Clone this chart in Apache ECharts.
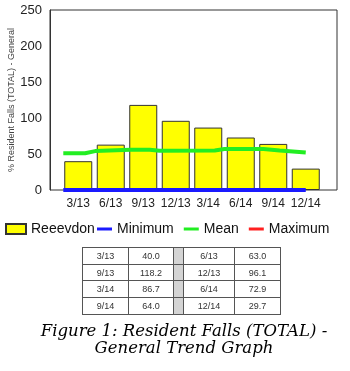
<!DOCTYPE html>
<html><head><meta charset="utf-8">
<script src="https://cdn.jsdelivr.net/npm/echarts@6/dist/echarts.min.js"></script>
<style>
html,body{margin:0;padding:0;background:#fff;}
#wrap{position:relative;width:350px;height:371px;overflow:hidden;}
#chart{position:absolute;left:0;top:0;width:350px;height:371px;}
#tbl{position:absolute;left:82px;top:247px;border-collapse:collapse;border:1px solid #000;font-family:"Liberation Sans",Arial,sans-serif;font-size:9px;color:#333;}
#tbl td{border:1px solid #555;height:15.7px;padding:0;text-align:center;}
#tbl td.g{background:#d4d4d4;width:9px;}
#cap{position:absolute;left:9px;top:322px;width:350px;text-align:center;font-family:"DejaVu Serif",serif;font-style:italic;font-size:16.5px;line-height:17px;color:#000;}
</style></head>
<body><div id="wrap"><div id="chart"></div><table id="tbl"></table><div id="cap">Figure 1: Resident Falls (TOTAL) -<br>General Trend Graph</div></div>
<script>
var categories = ['3/13','6/13','9/13','12/13','3/14','6/14','9/14','12/14'];
var reeevdon = [40.0, 63.0, 118.2, 96.1, 86.7, 72.9, 64.0, 29.7];
var meanX = [-0.46, 0.21, 0.52, 1.6, 2.2, 2.5, 4.2, 4.5, 5.7, 6.2, 7];
var meanY = [51, 51, 54, 56, 56, 54.5, 55, 57, 57, 55, 52];
var minX = [-0.46, 7];
var minY = [0, 0];
var yTicks = [0, 50, 100, 150, 200, 250];

var chart = echarts.init(document.getElementById('chart'), null, {renderer:'canvas'});
var font = '"Liberation Sans", Arial, sans-serif';
function pairs(xs, ys){ return xs.map(function(x,i){return [x, ys[i]];}); }
chart.setOption({
  animation:false,
  grid:[
    {left:50, right:13, top:10, bottom:181, show:true, borderColor:'#333', borderWidth:1, backgroundColor:'#fff', outerBoundsMode:'none', containLabel:false},
    {left:62, right:28, top:10, bottom:181, outerBoundsMode:'none', containLabel:false}
  ],
  xAxis:[
    {gridIndex:0, type:'value', show:false, min:0, max:1},
    {gridIndex:1, type:'category', data:categories, boundaryGap:true,
     axisLine:{show:false}, axisTick:{show:false},
     axisLabel:{color:'#222', fontFamily:font, fontSize:12, margin:8, interval:0}},
    {gridIndex:1, type:'value', show:false, min:-0.5, max:7.5}
  ],
  yAxis:[
    {gridIndex:0, type:'value', min:yTicks[0], max:yTicks[yTicks.length-1], interval:50,
     axisLine:{show:true, lineStyle:{color:'#333'}}, axisTick:{show:false}, splitLine:{show:false},
     axisLabel:{color:'#222', fontFamily:font, fontSize:13, margin:8},
     name:'% Resident Falls (TOTAL) - General', nameLocation:'middle', nameRotate:90, nameGap:34,
     nameMoveOverlap:false,
     nameTextStyle:{color:'#444', fontFamily:font, fontSize:9}},
    {gridIndex:1, type:'value', min:0, max:250, show:false}
  ],
  legend:[
    {left:5, top:222, padding:0, itemWidth:20, itemHeight:10, itemGap:6, data:[{name:'Reeevdon', icon:'rect'}],
     textStyle:{color:'#111', fontFamily:font, fontSize:14}},
    {left:97, top:222, padding:0, itemWidth:15, itemHeight:3, itemGap:10,
     data:[{name:'Minimum',icon:'rect'},{name:'Mean',icon:'rect'},{name:'Maximum',icon:'rect'}],
     textStyle:{color:'#111', fontFamily:font, fontSize:14}}
  ],
  series:[
    {name:'Reeevdon', type:'bar', xAxisIndex:1, yAxisIndex:1, data:reeevdon, barWidth:28,
     itemStyle:{color:'#ffff00', borderColor:'#333', borderWidth:1}},
    {name:'Minimum', type:'line', xAxisIndex:2, yAxisIndex:1, data:pairs(minX,minY), showSymbol:false,
     lineStyle:{color:'#1a1aff', width:4}, itemStyle:{color:'#1a1aff'}},
    {name:'Mean', type:'line', xAxisIndex:2, yAxisIndex:1, data:pairs(meanX,meanY), showSymbol:false,
     lineStyle:{color:'#22ee22', width:4}, itemStyle:{color:'#22ee22'}},
    {name:'Maximum', type:'line', xAxisIndex:2, yAxisIndex:1, data:[], showSymbol:false,
     lineStyle:{color:'#ff2020', width:3}, itemStyle:{color:'#ff2020'}}
  ]
});

var tbl = document.getElementById('tbl');
var widths = [45, 44, 0, 50, 45];
for (var r = 0; r < 4; r++) {
  var tr = document.createElement('tr');
  var i0 = r*2, i1 = r*2+1;
  var cells = [categories[i0], reeevdon[i0].toFixed(1), null, categories[i1], reeevdon[i1].toFixed(1)];
  cells.forEach(function(c, k){
    var td = document.createElement('td');
    if (c === null) { td.className = 'g'; }
    else { td.textContent = c; td.style.width = widths[k] + 'px'; }
    tr.appendChild(td);
  });
  tbl.appendChild(tr);
}
</script></body></html>
